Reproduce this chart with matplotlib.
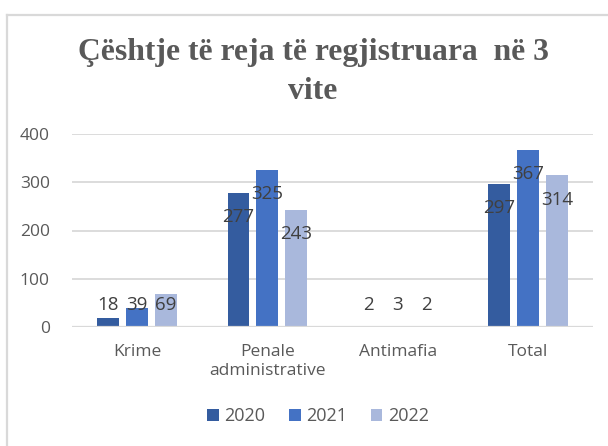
import matplotlib
matplotlib.use("Agg")
import matplotlib.pyplot as plt
import numpy as np
from matplotlib.lines import Line2D

categories = ["Krime", "Penale\nadministrative", "Antimafia", "Total"]
years = ["2020", "2021", "2022"]
values_2020 = [18, 277, 2, 297]
values_2021 = [39, 325, 3, 367]
values_2022 = [69, 243, 2, 314]
series = [values_2020, values_2021, values_2022]
colors = ["#345C9F", "#4472C4", "#A9B8DC"]
title = "Çështje të reja të regjistruara  në 3\nvite"

plt.rcParams['font.family'] = ['Open Sans', 'DejaVu Sans']

fig = plt.figure(figsize=(6.08, 4.46), dpi=100)
ax = fig.add_axes([72/608, 1-327/446, (593-72)/608, (327-134)/446])

x = np.arange(len(categories))
width = 0.168
step = 0.222
for i, (vals, col, yr) in enumerate(zip(series, colors, years)):
    pos = x + (i - 1) * step
    ax.bar(pos, vals, width=width, color=col, label=yr, zorder=3)
    for px, v in zip(pos, vals):
        ly = v - 50 if v > 100 else 45
        ax.text(px, ly, str(v), ha="center", va="center", fontsize=13.5,
                color="#404040", zorder=5)

ax.set_xlim(-0.5, 3.5)
ax.set_ylim(0, 400)
ax.set_yticks([0, 100, 200, 300, 400])
ax.yaxis.grid(True, color="#D9D9D9", linewidth=1.3, zorder=0)
ax.set_axisbelow(True)
ax.axhline(0, color="#D9D9D9", linewidth=1.6, zorder=4)
for s in ax.spines.values():
    s.set_visible(False)
ax.tick_params(axis="both", length=0, colors="#595959", labelsize=12.5)
ax.tick_params(axis="y", pad=16)
ax.tick_params(axis="x", pad=12)
ax.set_xticks(x)
ax.set_xticklabels(categories, linespacing=1.3)

fig.text(0.515, 1-72/446, title, ha="center", va="center", fontsize=22.8,
         fontweight="bold", family="Liberation Serif", color="#595959",
         linespacing=1.45)

leg = ax.legend(loc="center", bbox_to_anchor=(318/608, 1-416/446),
                bbox_transform=fig.transFigure, ncol=3, frameon=False,
                fontsize=13, handlelength=0.65, handleheight=0.65,
                handletextpad=0.3, columnspacing=1.3, labelcolor="#595959")

fig.add_artist(Line2D([7/608, 1], [1-15/446, 1-15/446], color="#D9D9D9",
                      linewidth=1.6, transform=fig.transFigure))
fig.add_artist(Line2D([7/608, 7/608], [0, 1-15/446], color="#D9D9D9",
                      linewidth=1.6, transform=fig.transFigure))

fig.savefig("out.png", dpi=100, facecolor="white")
